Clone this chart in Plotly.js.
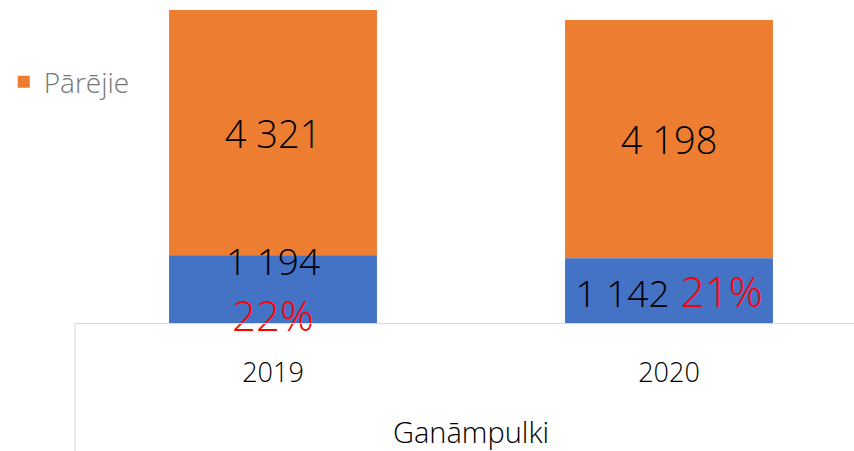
<!DOCTYPE html>
<html>
<head>
<meta charset="utf-8">
<script src="https://cdn.plot.ly/plotly-3.0.1.min.js"></script>
<style>
html,body{margin:0;padding:0;overflow:hidden;background:#fff;}
#chart{width:867px;height:451px;}
</style>
</head>
<body>
<div id="chart"></div>
<script>
var categories = ['2019', '2020'];
var ganampulki = [1194, 1142];
var parejie = [4321, 4198];
var axisTitle = 'Ganāmpulki';
var legendName = 'Pārējie';

function fmt(v){ return String(v).replace(/\B(?=(\d{3})+(?!\d))/g, ' '); }
var pct = ganampulki.map(function(v,i){ return Math.round(100*v/(v+parejie[i])) + '%'; });
var blueText = ganampulki.map(function(v,i){
  var sep = i === 0 ? '<br>' : ' ';
  return '<span style="font-size:37px">' + fmt(v) + '</span>' + sep +
         '<span style="color:#FF0000;font-size:42px">' + pct[i] + '</span>';
});
var orangeText = parejie.map(fmt);

var FONT = 'Open Sans, Noto Sans, sans-serif';

// Orange segment drawn first (stacked on top of the blue one via base),
// so that the blue segment's labels are painted above it.
var traces = [
  {
    type:'bar', x:categories, y:parejie, base:ganampulki, name:legendName,
    marker:{color:'#ED7D31'},
    text:orangeText, textposition:'inside', insidetextanchor:'middle',
    constraintext:'none', textangle:0,
    textfont:{family:FONT, size:38, color:'#000000', weight:300},
    hoverinfo:'skip'
  },
  {
    type:'bar', x:categories, y:ganampulki, name:'Ganāmpulki', showlegend:false,
    marker:{color:'#4472C4'},
    text:blueText, textposition:'inside', insidetextanchor:'middle',
    constraintext:'none', cliponaxis:false, textangle:0,
    textfont:{family:FONT, size:43, color:'#000000', weight:300},
    hoverinfo:'skip'
  }
];

var layout = {
  width:867, height:451,
  margin:{l:75, r:0, t:0, b:128},
  paper_bgcolor:'#ffffff', plot_bgcolor:'#ffffff',
  barmode:'overlay', bargap:0.475,
  font:{family:FONT, color:'#000000'},
  xaxis:{
    type:'category', range:[-0.5,1.5],
    showline:true, linecolor:'#d9d9d9', linewidth:1,
    showgrid:false, zeroline:false, ticks:'',
    tickfont:{family:FONT, size:27, color:'#000000', weight:300},
    ticklabelstandoff:26,
    title:{text:axisTitle, font:{family:FONT, size:29, color:'#000000', weight:300}, standoff:40}
  },
  yaxis:{range:[0,5692], visible:false, showgrid:false, zeroline:false},
  showlegend:true,
  legend:{x:-0.09, xanchor:'left', y:0.746, yanchor:'middle',
    font:{family:FONT, size:28, color:'#767676', weight:300},
    bgcolor:'rgba(0,0,0,0)'},
  shapes:[{type:'line', xref:'paper', yref:'paper', x0:0, x1:0, y0:0, y1:-0.4,
    line:{color:'#d9d9d9', width:1}}]
};

Plotly.newPlot('chart', traces, layout, {displayModeBar:false, staticPlot:true});
</script>
</body>
</html>
